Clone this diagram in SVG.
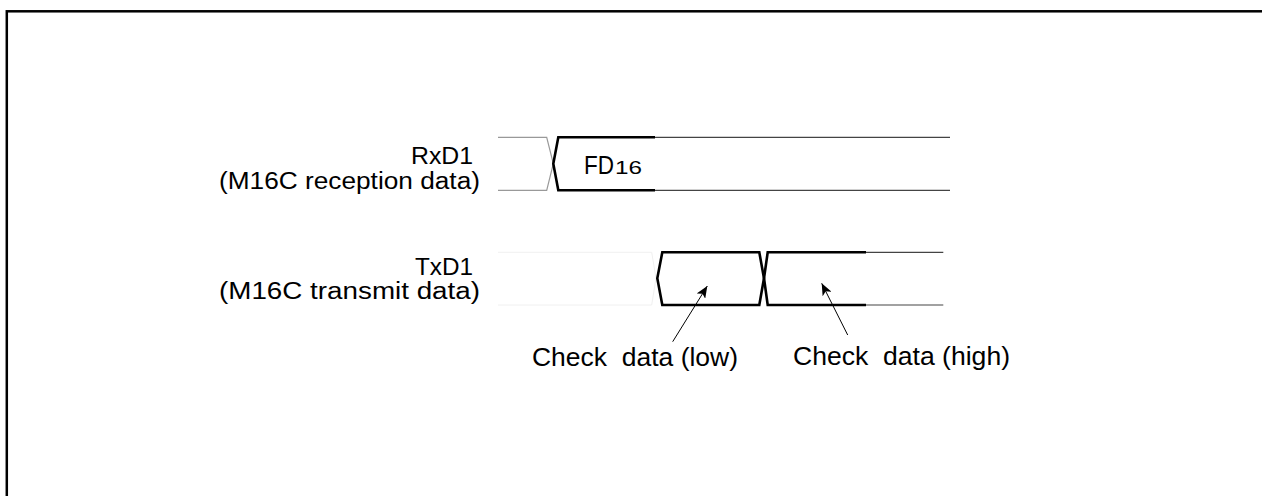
<svg xmlns="http://www.w3.org/2000/svg" width="1262" height="496" viewBox="0 0 1262 496">
<style>
.t{font-family:"Liberation Sans",Arial,sans-serif;font-size:25px;fill:#000;white-space:pre}
.lbl{font-size:23px}
.thick{fill:none;stroke:#000;stroke-width:2.6;stroke-linejoin:miter}
.thin{fill:none;stroke:#444;stroke-width:1.2}
.gray{fill:none;stroke:#999;stroke-width:1.2}
.faint{fill:none;stroke:#f0f0f0;stroke-width:1}
.ptr{fill:none;stroke:#000;stroke-width:1}
</style>
<defs>
<marker id="ah" viewBox="0 0 12 10" refX="12" refY="5" markerWidth="12" markerHeight="10" markerUnits="userSpaceOnUse" orient="auto">
<path d="M0,0 L12,5 L0,10 L3,5 Z" fill="#000"/>
</marker>
</defs>
<rect x="0" y="0" width="1262" height="496" fill="#fff"/>
<rect x="6.8" y="11.3" width="1270" height="500" fill="none" stroke="#000" stroke-width="2.5"/>

<g id="rxd1">
<text class="t lbl" x="411" y="163.5" textLength="62" lengthAdjust="spacingAndGlyphs">RxD1</text>
<text class="t lbl" x="219" y="189" textLength="261" lengthAdjust="spacingAndGlyphs">(M16C reception data)</text>
<path class="gray" d="M498,137.3 H546.7 L553.3,163.7 M498,190.3 H546.7 L553.3,163.7"/>
<path class="thick" d="M655,137.3 H558.3 L553.3,163.7 L558.3,190.3 H655"/>
<path class="thin" d="M655,137.3 H950 M655,190.3 H950"/>
<text class="t" x="584" y="174" textLength="30" lengthAdjust="spacingAndGlyphs">FD</text>
<text class="t" x="615" y="174" style="font-size:18px" textLength="27" lengthAdjust="spacingAndGlyphs">16</text>
</g>

<g id="txd1">
<text class="t lbl" x="415" y="274.5" textLength="58" lengthAdjust="spacingAndGlyphs">TxD1</text>
<text class="t lbl" x="219" y="299" textLength="261" lengthAdjust="spacingAndGlyphs">(M16C transmit data)</text>
<path class="faint" d="M498,252.3 H651.7 L656,278.3 M498,305 H651.7 L656,278.3"/>
<path class="thick" d="M662.3,252.3 H759.3 L764,278.3 L759.3,305 H662.3 L657.3,278.3 Z"/>
<path class="thick" d="M866,252.3 H767.7 L764,278.3 L767.7,305 H866"/>
<path class="thin" d="M866,252.3 H943.3 M866,305 H943.3"/>
</g>

<g id="check-low">
<text class="t" x="532" y="366" textLength="206" lengthAdjust="spacingAndGlyphs">Check  data (low)</text>
</g>
<g id="check-high">
<text class="t" x="793" y="364.5" textLength="217" lengthAdjust="spacingAndGlyphs">Check  data (high)</text>
</g>

<g id="connectors">
<line class="ptr" x1="672.7" y1="341.7" x2="707.3" y2="286" marker-end="url(#ah)"/>
<line class="ptr" x1="847.7" y1="335" x2="821.7" y2="283.3" marker-end="url(#ah)"/>
</g>
</svg>
